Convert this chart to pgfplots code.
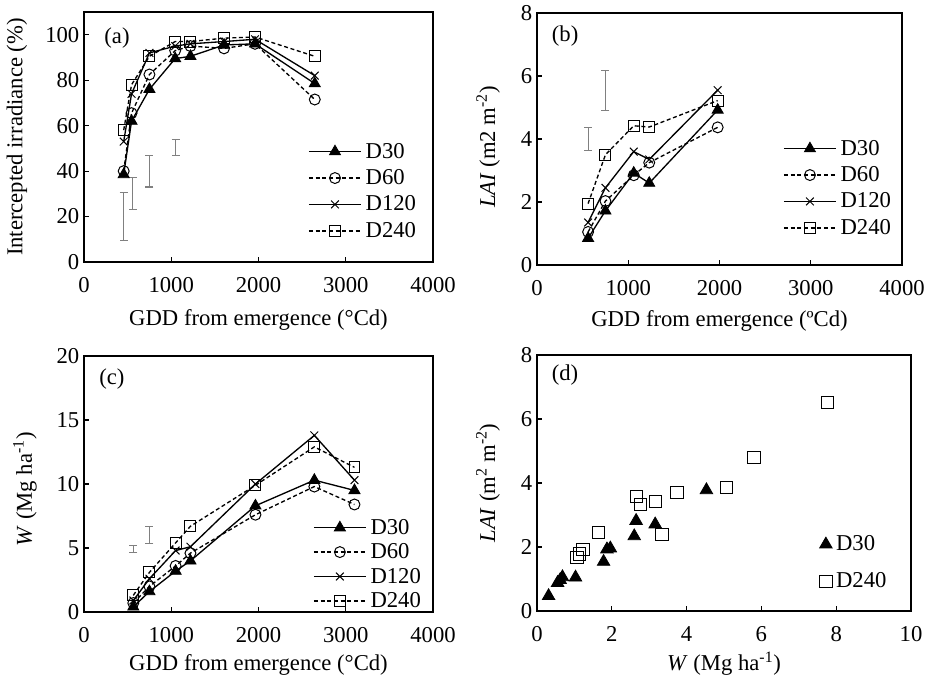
\documentclass[border=0pt]{standalone}
\usepackage{fontspec}
\setmainfont{Liberation Serif}
\usepackage{pgfplots}
\pgfplotsset{compat=1.18}
\newcommand\fs{\fontsize{17}{20}\selectfont}

\pgfplotsset{
  panel/.style={scale only axis, axis line style={line width=1pt},
    tick align=inside, xtick pos=lower, ytick pos=left,
    major tick length=3.75pt, tick style={line width=0.8pt, black},
    tick label style={font=\fs}, label style={font=\fs},
    /pgf/number format/assume math mode=true,
    /pgf/number format/1000 sep={},
    xticklabel style={yshift=-8pt},
    legend cell align=left,
    legend style={draw=none, fill=none, font=\fs, inner sep=0pt,
      row sep=5pt, nodes={inner xsep=3pt, inner ysep=1pt}, anchor=north west},
    legend image code/.code={\draw[mark repeat=2,mark phase=2]
      plot coordinates {(0pt,0pt) (19.5pt,0pt) (39pt,0pt)};},
  },
  s30/.style={black, line width=1pt, solid, mark=triangle*, mark size=4.8pt,
    mark options={solid, fill=black, line width=0.6pt}},
  s60/.style={black, line width=1pt, dash pattern=on 3pt off 2pt, mark=o, mark size=4.1pt,
    mark options={solid, line width=0.75pt}},
  s120/.style={black, line width=1pt, solid, mark=x, mark size=4.1pt,
    mark options={solid, line width=0.75pt}},
  s240/.style={black, line width=1pt, dash pattern=on 3pt off 2pt, mark=square, mark size=4.1pt,
    mark options={solid, line width=0.75pt}},
  ebar/.style={only marks, mark=*, mark size=0pt, mark options={draw=none, fill=none}, forget plot,
    error bars/.cd, y dir=both, y explicit,
    error bar style={draw=gray, solid, line width=0.8pt},
    error mark options={rotate=90, draw=gray, solid, line width=0.8pt, mark size=3pt}},
}

\begin{document}
\begin{tikzpicture}
\path[use as bounding box] (0,0) rectangle (696pt,-511.5pt);

% (a)
\begin{axis}[panel, at={(63pt,-196.5pt)}, anchor=south west,
  width=261.75pt, height=187.5pt,
  xmin=0, xmax=4000, ymin=0, ymax=110,
  xtick={0,1000,2000,3000,4000}, ytick={0,20,40,60,80,100},
  xlabel={GDD from emergence (°Cd)},
  ylabel={Intercepted irradiance (\%)},
  xlabel style={at={(axis description cs:0.5,-0.232)}, anchor=center},
  ylabel style={at={(axis description cs:-0.192,0.5)}, anchor=center},
  legend style={at={(axis description cs:0.642,0.482)}},
]
\addplot[s30] coordinates {(455,38.5) (545,62) (750,76) (1045,89.5) (1220,90.5) (1605,95.5) (1960,96) (2645,78.5)};
\addlegendentry{D30}
\addplot[s60] coordinates {(455,40) (545,65.5) (750,82.5) (1045,93) (1220,95) (1605,94) (1960,96) (2645,71.5)};
\addlegendentry{D60}
\addplot[s120] coordinates {(455,53) (545,74) (750,92) (1045,95) (1220,96) (1605,97) (1960,98) (2645,82)};
\addlegendentry{D120}
\addplot[s240] coordinates {(455,58) (545,78) (750,90.5) (1045,97) (1220,97) (1605,98.5) (1960,99) (2645,90.5)};
\addlegendentry{D240}
\addplot[ebar] coordinates {(455,20) +- (0,10.5) (560,30) +- (0,7) (750,40) +- (0,7) (1050,50.5) +- (0,3.5)};
\node[font=\fs] at (axis description cs:0.0946,0.896) {(a)};
\end{axis}

% (b)
\begin{axis}[panel, at={(402.75pt,-198.75pt)}, anchor=south west,
  width=273.75pt, height=189pt,
  xmin=0, xmax=4000, ymin=0, ymax=8,
  xtick={0,1000,2000,3000,4000}, ytick={0,2,4,6,8},
  xlabel={GDD from emergence (ºCd)},
  ylabel={\textit{LAI} (m2 m\textsuperscript{-2})},
  xlabel style={at={(axis description cs:0.5,-0.222)}, anchor=center},
  ylabel style={at={(axis description cs:-0.134,0.468)}, anchor=center},
  legend style={at={(axis description cs:0.674,0.502)}},
]
\addplot[s30] coordinates {(560,0.85) (750,1.72) (1060,2.92) (1230,2.6) (1980,4.92)};
\addlegendentry{D30}
\addplot[s60] coordinates {(560,1.05) (750,2.03) (1060,2.85) (1230,3.25) (1980,4.37)};
\addlegendentry{D60}
\addplot[s120] coordinates {(560,1.35) (750,2.45) (1060,3.6) (1230,3.35) (1980,5.55)};
\addlegendentry{D120}
\addplot[s240] coordinates {(560,1.95) (750,3.5) (1060,4.42) (1230,4.38) (1980,5.22)};
\addlegendentry{D240}
\addplot[ebar] coordinates {(560,3.995) +- (0,0.365) (750,5.54) +- (0,0.64)};
\node[font=\fs] at (axis description cs:0.077,0.909) {(b)};
\end{axis}

% (c)
\begin{axis}[panel, at={(63pt,-459pt)}, anchor=south west,
  width=261.75pt, height=192pt,
  xmin=0, xmax=4000, ymin=0, ymax=20,
  xtick={0,1000,2000,3000,4000}, ytick={0,5,10,15,20},
  xlabel={GDD from emergence (°Cd)},
  ylabel={\textit{W} (Mg ha\textsuperscript{-1})},
  xlabel style={at={(axis description cs:0.5,-0.207)}, anchor=center},
  ylabel style={at={(axis description cs:-0.169,0.48)}, anchor=center},
  legend style={at={(axis description cs:0.656,0.369)}, row sep=3.5pt},
]
\addplot[s30] coordinates {(565,0.4) (750,1.6) (1050,3.2) (1220,4.0) (1965,8.3) (2640,10.3) (3100,9.5)};
\addlegendentry{D30}
\addplot[s60] coordinates {(565,0.7) (750,2.0) (1050,3.6) (1220,4.6) (1965,7.6) (2640,9.8) (3100,8.4)};
\addlegendentry{D60}
\addplot[s120] coordinates {(565,0.9) (750,2.6) (1050,4.8) (1220,5.1) (1965,10.0) (2640,13.8) (3100,10.3)};
\addlegendentry{D120}
\addplot[s240] coordinates {(565,1.3) (750,3.1) (1050,5.4) (1220,6.7) (1965,9.9) (2640,12.9) (3100,11.3)};
\addlegendentry{D240}
\addplot[ebar] coordinates {(565,4.95) +- (0,0.27) (750,6.0) +- (0,0.68)};
\node[font=\fs] at (axis description cs:0.080,0.91) {(c)};
\end{axis}

% (d)
\begin{axis}[panel, at={(402.75pt,-458.25pt)}, anchor=south west,
  width=280.5pt, height=192pt,
  xmin=0, xmax=10, ymin=0, ymax=8,
  xtick={0,2,4,6,8,10}, ytick={0,2,4,6,8},
  xlabel={\textit{W} (Mg ha\textsuperscript{-1})},
  ylabel={\textit{LAI} (m\textsuperscript{2} m\textsuperscript{-2})},
  xlabel style={at={(axis description cs:0.5,-0.207)}, anchor=center},
  ylabel style={at={(axis description cs:-0.131,0.5)}, anchor=center},
  legend style={at={(axis description cs:0.755,0.30)}, row sep=13pt},
  legend image code/.code={\draw plot coordinates {(5pt,0pt)};},
]
\addplot[only marks, black, mark=triangle*, mark size=5.4pt, mark options={fill=black, line width=0.6pt}] coordinates {
 (0.31,0.47) (0.55,0.88) (0.62,0.97) (0.68,1.06) (1.03,1.05) (1.78,1.54) (1.87,1.93)
 (1.96,1.96) (2.60,2.34) (2.65,2.82) (3.16,2.71) (4.53,3.78)};
\addlegendentry{D30}
\addplot[only marks, black, mark=square, mark size=4.6pt, mark options={line width=0.75pt}] coordinates {
 (1.07,1.67) (1.13,1.78) (1.23,1.93) (1.65,2.45) (2.67,3.57) (2.76,3.33) (3.16,3.42)
 (3.34,2.38) (3.74,3.71) (5.07,3.87) (5.80,4.80) (7.77,6.51)};
\addlegendentry{D240}
\node[font=\fs] at (axis description cs:0.075,0.922) {(d)};
\end{axis}
\end{tikzpicture}
\end{document}
